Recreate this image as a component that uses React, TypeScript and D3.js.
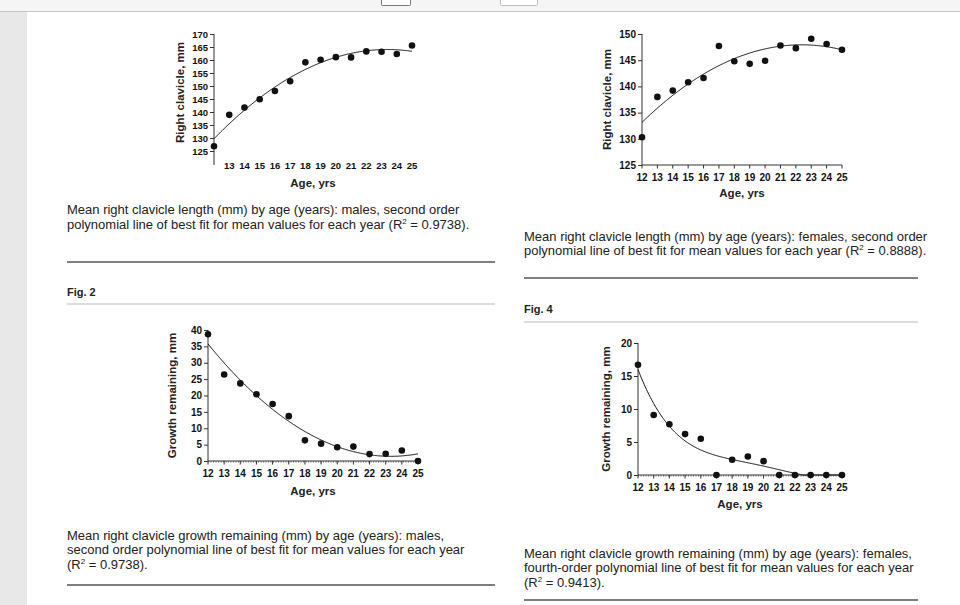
import React, { useEffect, useRef } from 'react';
import * as d3 from 'd3';

// mean values per year of age
const ages = [12, 13, 14, 15, 16, 17, 18, 19, 20, 21, 22, 23, 24, 25];
const maleLength = [126.8, 138.9, 141.7, 144.9, 148.1, 151.8, 159.1, 160.1, 161.1, 161.0, 163.3, 163.2, 162.3, 165.6];
const femaleLength = [130.3, 138.0, 139.2, 140.8, 141.6, 147.7, 144.8, 144.3, 144.9, 147.8, 147.3, 149.1, 148.1, 147.0];
const maleGrowth = [38.7, 26.4, 23.7, 20.4, 17.4, 13.7, 6.3, 5.3, 4.2, 4.4, 2.1, 2.2, 3.2, 0];
const femaleGrowth = [16.7, 9.1, 7.7, 6.2, 5.5, 0, 2.3, 2.8, 2.1, 0, 0, 0, 0, 0];

const lengthTicksMale = [125, 130, 135, 140, 145, 150, 155, 160, 165, 170];
const lengthTicksFemale = [125, 130, 135, 140, 145, 150];
const growthTicksMale = [0, 5, 10, 15, 20, 25, 30, 35, 40];
const growthTicksFemale = [0, 5, 10, 15, 20];

const captions = [
  {
    x: 67, y: 214,
    lines: [
      'Mean right clavicle length (mm) by age (years): males, second order',
      'polynomial line of best fit for mean values for each year (R^2 = 0.9738).',
    ],
  },
  {
    x: 524, y: 240.5,
    lines: [
      'Mean right clavicle length (mm) by age (years): females, second order',
      'polynomial line of best fit for mean values for each year (R^2 = 0.8888).',
    ],
  },
  {
    x: 67, y: 539.5,
    lines: [
      'Mean right clavicle growth remaining (mm) by age (years): males,',
      'second order polynomial line of best fit for mean values for each year',
      '(R^2 = 0.9738).',
    ],
  },
  {
    x: 524, y: 557.5,
    lines: [
      'Mean right clavicle growth remaining (mm) by age (years): females,',
      'fourth-order polynomial line of best fit for mean values for each year',
      '(R^2 = 0.9413).',
    ],
  },
];

// least squares polynomial, x centred for stability
function polyFit(xs: number[], ys: number[], deg: number) {
  const c = d3.mean(xs) as number;
  const n = deg + 1;
  const A = Array.from({ length: n }, () => new Array(n + 1).fill(0));
  xs.forEach((xv, k) => {
    const t = xv - c;
    for (let i = 0; i < n; i++) {
      for (let j = 0; j < n; j++) A[i][j] += Math.pow(t, i + j);
      A[i][n] += ys[k] * Math.pow(t, i);
    }
  });
  for (let i = 0; i < n; i++) {
    let p = i;
    for (let r = i + 1; r < n; r++) if (Math.abs(A[r][i]) > Math.abs(A[p][i])) p = r;
    [A[i], A[p]] = [A[p], A[i]];
    for (let r = 0; r < n; r++) {
      if (r === i) continue;
      const f = A[r][i] / A[i][i];
      for (let k = i; k <= n; k++) A[r][k] -= f * A[i][k];
    }
  }
  const coef = A.map((row, i) => row[n] / A[i][i]);
  return (xv: number) => coef.reduce((s, a, i) => s + a * Math.pow(xv - c, i), 0);
}

const panels = [
  {
    values: maleLength, degree: 2, yTicks: lengthTicksMale, xTicks: ages.slice(1),
    left: 214, right: 412, top: 34, bottom: 151, axisEnd: 165, xAxis: 'none',
    labelY: 166, titleY: 183, yTitleX: 180, tickSize: 9.5, yTitle: 'Right clavicle, mm',
  },
  {
    values: femaleLength, degree: 2, yTicks: lengthTicksFemale, xTicks: ages,
    left: 642, right: 842, top: 34, bottom: 165, axisEnd: 165, xAxis: 'solid',
    labelY: 177, titleY: 193, yTitleX: 607, tickSize: 10, yTitle: 'Right clavicle, mm',
  },
  {
    values: maleGrowth, degree: 2, yTicks: growthTicksMale, xTicks: ages,
    left: 208, right: 418, top: 330, bottom: 461, axisEnd: 461, xAxis: 'dotted',
    labelY: 473, titleY: 491, yTitleX: 172, tickSize: 10, yTitle: 'Growth remaining, mm',
  },
  {
    values: femaleGrowth, degree: 4, yTicks: growthTicksFemale, xTicks: ages,
    left: 638, right: 842, top: 343, bottom: 475, axisEnd: 475, xAxis: 'dotted',
    labelY: 487, titleY: 504, yTitleX: 606, tickSize: 10, yTitle: 'Growth remaining, mm',
  },
];

const FONT = '"Liberation Sans", Arial, Helvetica, sans-serif';

const App: React.FC = () => {
  const svgRef = useRef<SVGSVGElement>(null);

  useEffect(() => {
    if (!svgRef.current) return;
    const svg = d3.select(svgRef.current);
    svg.selectAll('*').remove();

    // page chrome: toolbar strip and left gutter
    svg.append('rect').attr('width', 960).attr('height', 605).attr('fill', '#fff');
    svg.append('rect').attr('width', 960).attr('height', 11).attr('fill', '#f5f5f5');
    svg.append('line').attr('x1', 0).attr('x2', 960).attr('y1', 11.5).attr('y2', 11.5)
      .attr('stroke', '#c6c6c6');
    svg.append('rect').attr('x', 381.5).attr('y', -3).attr('width', 29).attr('height', 8.5).attr('rx', 1)
      .attr('fill', '#fff').attr('stroke', '#777');
    svg.append('rect').attr('x', 500.5).attr('y', -3).attr('width', 37).attr('height', 8.5).attr('rx', 1)
      .attr('fill', '#fff').attr('stroke', '#bbb');
    svg.append('rect').attr('x', 0).attr('y', 12).attr('width', 27).attr('height', 593).attr('fill', '#e8e8e8');

    panels.forEach((p) => {
      const g = svg.append('g').style('font-family', FONT);
      const x = d3.scaleLinear().domain([12, 25]).range([p.left, p.right]);
      const y = d3.scaleLinear().domain([p.yTicks[0], p.yTicks[p.yTicks.length - 1]]).range([p.bottom, p.top]);

      // y axis
      const ya = g.append('g').attr('transform', `translate(${p.left},0)`)
        .call(d3.axisLeft(y).tickValues(p.yTicks).tickSize(4).tickPadding(2).tickSizeOuter(0));
      ya.select('.domain').remove();
      ya.selectAll('text').style('font-size', `${p.tickSize}px`).style('font-weight', 'bold')
        .style('font-family', FONT).attr('fill', '#111');
      ya.selectAll('line').attr('stroke', '#333');
      g.append('line').attr('x1', p.left).attr('x2', p.left).attr('y1', p.top).attr('y2', p.axisEnd)
        .attr('stroke', '#333');

      // x axis
      if (p.xAxis !== 'none') {
        g.append('line').attr('x1', p.left).attr('x2', p.right).attr('y1', p.bottom).attr('y2', p.bottom)
          .attr('stroke', '#333');
        if (p.xAxis === 'dotted') {
          g.append('line').attr('x1', p.left).attr('x2', p.right).attr('y1', p.bottom + 0.8).attr('y2', p.bottom + 0.8)
            .attr('stroke', '#666').attr('stroke-width', 1.4).attr('stroke-dasharray', '1,1.5');
        }
        g.selectAll('.xt').data(ages).join('line').attr('class', 'xt')
          .attr('x1', (d) => x(d)).attr('x2', (d) => x(d))
          .attr('y1', p.bottom).attr('y2', p.bottom + 3.5).attr('stroke', '#333');
      }
      g.selectAll('.xl').data(p.xTicks).join('text').attr('class', 'xl')
        .attr('x', (d) => x(d)).attr('y', p.labelY).attr('dy', '0.35em')
        .attr('text-anchor', 'middle').style('font-size', `${p.tickSize}px`).style('font-weight', 'bold')
        .attr('fill', '#111').text((d) => d);

      // titles
      g.append('text').attr('x', (p.left + p.right) / 2).attr('y', p.titleY).attr('dy', '0.35em')
        .attr('text-anchor', 'middle').style('font-size', '11.5px').style('font-weight', 'bold')
        .attr('fill', '#222').text('Age, yrs');
      g.append('text')
        .attr('transform', `translate(${p.yTitleX},${(p.top + p.bottom) / 2}) rotate(-90)`)
        .attr('dy', '0.35em').attr('text-anchor', 'middle')
        .style('font-size', '11.5px').style('font-weight', 'bold').attr('fill', '#222').text(p.yTitle);

      // fitted curve, clipped at the axis floor
      const fit = polyFit(ages, p.values, p.degree);
      const floor = p.yTicks[0];
      const line = d3.line<number>().x((d) => x(d)).y((d) => y(Math.max(floor, fit(d))));
      g.append('path').datum(d3.range(12, 25.001, 0.05)).attr('d', line)
        .attr('fill', 'none').attr('stroke', '#111').attr('stroke-width', 1);

      g.selectAll('.dot').data(ages).join('circle').attr('class', 'dot')
        .attr('cx', (d) => x(d)).attr('cy', (_, i) => y(p.values[i]))
        .attr('r', 3.3).attr('fill', '#111');
    });

    // captions, one text element per line
    captions.forEach((c) => {
      c.lines.forEach((ln, i) => {
        const t = svg.append('text').attr('x', c.x).attr('y', c.y + i * 14.5)
          .style('font-family', FONT).style('font-size', '13px').attr('fill', '#222');
        const [pre, post] = ln.split('^2');
        t.append('tspan').text(pre);
        if (post !== undefined) {
          t.append('tspan').attr('dy', -5).style('font-size', '8px').text('2');
          t.append('tspan').attr('dy', 5).text(post);
        }
      });
    });

    // rules and figure labels
    const rules = [
      { x1: 67, x2: 495, y: 262, c: '#555', w: 1.6 },
      { x1: 67, x2: 495, y: 304, c: '#bbb', w: 1 },
      { x1: 524, x2: 918, y: 278, c: '#555', w: 1.6 },
      { x1: 524, x2: 918, y: 322, c: '#bbb', w: 1 },
      { x1: 67, x2: 495, y: 585, c: '#555', w: 1.6 },
      { x1: 524, x2: 918, y: 600, c: '#555', w: 1.6 },
    ];
    svg.selectAll('.rule').data(rules).join('line').attr('class', 'rule')
      .attr('x1', (d) => d.x1).attr('x2', (d) => d.x2).attr('y1', (d) => d.y).attr('y2', (d) => d.y)
      .attr('stroke', (d) => d.c).attr('stroke-width', (d) => d.w);
    [{ x: 67, y: 292, t: 'Fig. 2' }, { x: 524, y: 309, t: 'Fig. 4' }].forEach((f) => {
      svg.append('text').attr('x', f.x).attr('y', f.y).attr('dy', '0.35em')
        .style('font-family', FONT).style('font-size', '11px').style('font-weight', 'bold')
        .attr('fill', '#222').text(f.t);
    });
  }, []);

  return (
    <div style={{ position: 'fixed', left: 0, top: 0, width: 960, height: 605, background: '#fff' }}>
      <svg ref={svgRef} width={960} height={605} style={{ display: 'block' }} />
    </div>
  );
};

export default App;
